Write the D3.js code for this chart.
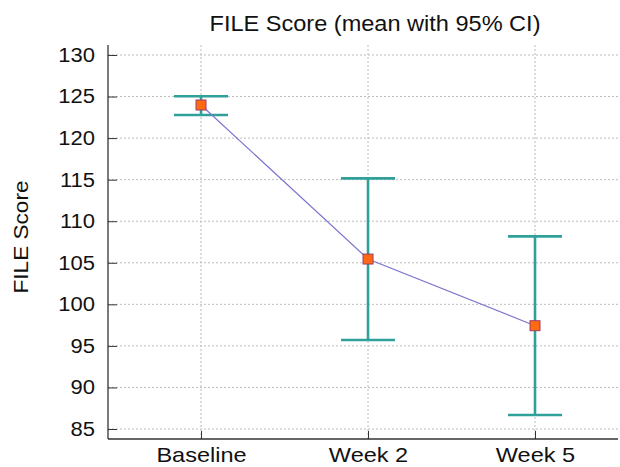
<!DOCTYPE html>
<html><head><meta charset="utf-8">
<script src="https://cdn.jsdelivr.net/npm/d3@7"></script>
<style>body{margin:0;background:#fff}svg{display:block;font-family:"Liberation Sans",Arial,sans-serif}</style>
</head><body>
<svg id="c" width="620" height="467"></svg>
<script>
const categories = ["Baseline", "Week 2", "Week 5"];
const means = [123.98, 105.45, 97.43];
const upperCI = [125.03, 115.16, 108.18];
const lowerCI = [122.78, 95.71, 86.68];
const yTicks = [85, 90, 95, 100, 105, 110, 115, 120, 125, 130];

const svg = d3.select("#c");
const L = 108, R = 618, T = 45, B = 439;
const x = d3.scaleLinear().domain([-0.557, 2.497]).range([L, R]);
const y = d3.scaleLinear().domain([83.8, 131.2]).range([B, T]);

function widen(sel, k) {
  sel.each(function () {
    const w = this.getComputedTextLength();
    d3.select(this).attr("textLength", w * k).attr("lengthAdjust", "spacingAndGlyphs");
  });
}

// grid
svg.append("g").selectAll("line").data(yTicks).join("line")
  .attr("x1", L).attr("x2", R).attr("y1", d => y(d)).attr("y2", d => y(d))
  .attr("stroke", "#bcbcbc").attr("stroke-width", 1).attr("stroke-dasharray", "2,2");
svg.append("g").selectAll("line").data(categories).join("line")
  .attr("x1", (d, i) => x(i)).attr("x2", (d, i) => x(i)).attr("y1", T).attr("y2", B)
  .attr("stroke", "#bcbcbc").attr("stroke-width", 1).attr("stroke-dasharray", "2,2");

// axes
const yAxis = d3.axisLeft(y).tickValues(yTicks).tickSizeInner(-9).tickSizeOuter(0).tickPadding(20);
const gy = svg.append("g").attr("transform", `translate(${L},0)`).call(yAxis);
gy.select(".domain").attr("stroke", "#333").attr("stroke-width", 1.3).attr("d", `M0,${T}V${B}`);
gy.selectAll(".tick line").attr("stroke", "#333");
gy.selectAll(".tick text").attr("font-size", 20).attr("fill", "#111").attr("x", -13).call(widen, 1.1);

const xAxis = d3.axisBottom(x).tickValues([0, 1, 2]).tickFormat(i => categories[i])
  .tickSizeInner(-8).tickSizeOuter(0).tickPadding(17);
const gx = svg.append("g").attr("transform", `translate(0,${B})`).call(xAxis);
gx.select(".domain").attr("stroke", "#333").attr("stroke-width", 1.3).attr("d", `M${L},0H${R}`);
gx.selectAll(".tick line").attr("stroke", "#333");
gx.selectAll(".tick text").attr("font-size", 21).attr("fill", "#111").attr("dy", 0).attr("y", 23).call(widen, 1.12);

// error bars
const eb = svg.append("g").attr("stroke", "#30a09a").attr("stroke-width", 2.6).attr("fill", "none");
categories.forEach((c, i) => {
  eb.append("line").attr("x1", x(i)).attr("x2", x(i)).attr("y1", y(upperCI[i])).attr("y2", y(lowerCI[i]));
  eb.append("line").attr("x1", x(i) - 27).attr("x2", x(i) + 27).attr("y1", y(upperCI[i])).attr("y2", y(upperCI[i]));
  eb.append("line").attr("x1", x(i) - 27).attr("x2", x(i) + 27).attr("y1", y(lowerCI[i])).attr("y2", y(lowerCI[i]));
});

// mean line
svg.append("path").datum(means)
  .attr("d", d3.line().x((d, i) => x(i)).y(d => y(d)))
  .attr("fill", "none").attr("stroke", "#7a74d0").attr("stroke-width", 1.2);

// markers
svg.append("g").selectAll("rect").data(means).join("rect")
  .attr("x", (d, i) => x(i) - 5).attr("y", d => y(d) - 5).attr("width", 10).attr("height", 10)
  .attr("fill", "#ff6a10").attr("stroke", "#a03c6a").attr("stroke-width", 1);

// titles
svg.append("text").attr("x", 375).attr("y", 31).attr("text-anchor", "middle")
  .attr("font-size", 22).attr("fill", "#111").text("FILE Score (mean with 95% CI)").call(widen, 1.07);
svg.append("text").attr("transform", "translate(28,237) rotate(-90)").attr("text-anchor", "middle")
  .attr("font-size", 21).attr("fill", "#111").text("FILE Score").call(widen, 1.076);
</script>
</body></html>
